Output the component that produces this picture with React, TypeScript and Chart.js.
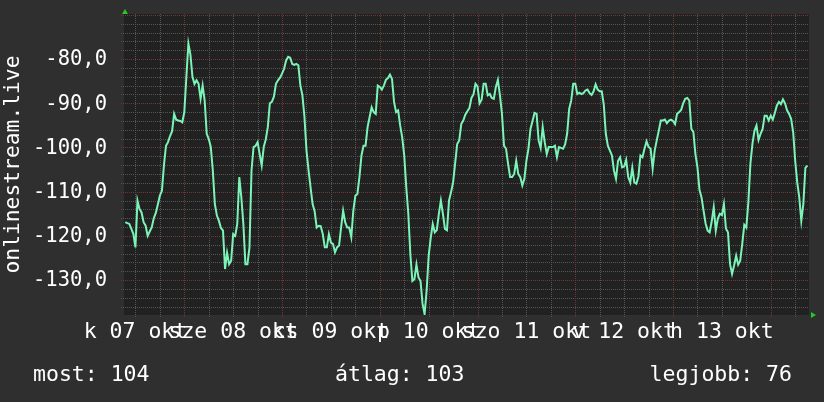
import React, { useEffect, useRef } from "react";
import { Chart, registerables } from "chart.js";

Chart.register(...registerables);

// ---- data (hours since 7 okt 00:00, 30-minute samples) ----
const START_HOUR = 9.5;
const STEP_HOURS = 0.5;
const values: number[] = [
  -116.9, -117.1, -117.3, -118.4, -119.6, -122.6, -112.0, -113.9, -114.7, -116.9,
  -117.7, -120.0, -119.0, -118.1, -116.0, -114.8, -112.9, -110.9, -109.8, -104.0,
  -99.6, -98.8, -97.4, -96.3, -92.4, -93.7, -93.9, -94.0, -94.3, -92.0,
  -84.1, -76.5, -79.0, -84.0, -85.6, -84.8, -85.6, -89.0, -86.0, -89.4,
  -96.9, -98.1, -99.9, -105.2, -112.8, -115.4, -116.6, -118.2, -118.8, -127.5,
  -123.8, -126.4, -125.6, -119.6, -120.0, -117.3, -106.7, -111.3, -117.3, -126.4,
  -126.4, -122.6, -105.2, -99.9, -99.6, -98.8, -101.5, -104.1, -99.9, -98.2,
  -95.4, -90.0, -89.7, -88.5, -85.6, -84.8, -84.2, -83.3, -82.2, -80.3,
  -79.5, -79.7, -81.1, -81.3, -81.1, -81.4, -86.0, -88.2, -93.1, -100.7,
  -105.1, -109.0, -112.8, -114.4, -118.1, -117.7, -117.8, -119.6, -122.6, -122.6,
  -119.6, -121.5, -121.8, -123.7, -122.6, -122.2, -118.1, -114.3, -116.9, -118.1,
  -118.1, -120.3, -114.3, -110.9, -110.5, -106.7, -101.8, -99.6, -99.6, -95.4,
  -93.1, -90.9, -92.0, -92.4, -86.0, -86.3, -86.9, -86.0, -84.7, -84.3,
  -83.5, -84.5, -89.7, -92.0, -91.6, -95.0, -97.7, -101.8, -109.0, -115.0,
  -124.1, -130.2, -129.8, -126.5, -129.4, -130.2, -135.4, -137.7, -132.4, -124.5,
  -120.5, -117.3, -119.2, -118.7, -115.0, -112.0, -115.0, -118.4, -118.7, -112.0,
  -110.1, -107.9, -103.6, -99.2, -98.4, -94.7, -93.9, -92.6, -91.8, -91.1,
  -88.8, -88.0, -85.6, -86.2, -90.0, -89.2, -85.6, -85.6, -88.2, -87.9,
  -88.8, -89.0, -86.3, -84.7, -88.2, -92.4, -99.6, -100.3, -103.7, -106.7,
  -106.7, -106.0, -103.0, -106.0, -106.7, -108.6, -107.1, -103.0, -100.3, -95.8,
  -94.0, -92.2, -92.4, -98.4, -100.1, -95.4, -98.8, -101.5, -99.9, -99.9,
  -99.9, -99.6, -102.2, -99.9, -100.1, -100.3, -99.3, -96.9, -91.3, -89.4,
  -85.6, -85.6, -87.9, -87.6, -87.9, -87.7, -87.1, -86.9, -87.7, -88.1,
  -87.3, -85.7, -86.9, -87.3, -87.3, -90.3, -96.9, -99.6, -100.7, -101.8,
  -105.2, -107.1, -103.0, -102.2, -104.5, -104.3, -102.8, -106.7, -107.9, -104.6,
  -107.9, -108.2, -106.6, -101.8, -102.2, -100.3, -98.6, -99.9, -100.3, -104.8,
  -100.7, -98.4, -96.2, -93.9, -93.9, -93.7, -94.5, -93.9, -93.7, -94.0,
  -94.7, -92.4, -92.0, -91.5, -90.0, -89.0, -88.8, -89.4, -95.8, -96.5,
  -101.5, -104.5, -109.6, -111.3, -114.3, -117.2, -118.8, -119.2, -116.7, -113.5,
  -118.8, -116.1, -115.0, -115.3, -112.8, -118.4, -119.2, -126.4, -128.6, -126.7,
  -124.5, -126.5, -125.6, -121.8, -117.5, -118.1, -112.4, -103.7, -99.2, -96.2,
  -95.0, -98.3, -96.9, -95.8, -92.8, -92.8, -93.9, -92.8, -93.7, -92.2,
  -90.5, -89.7, -90.2, -89.1, -90.0, -91.6, -92.4, -93.5, -96.5, -103.0,
  -107.9, -111.3, -116.6, -112.8, -104.6, -104.1,
];

const dayLabels = ["k 07 okt", "sze 08 okt", "cs 09 okt", "p 10 okt", "szo 11 okt", "v 12 okt", "h 13 okt"];
const dayLabelHours = [12, 36, 60, 84, 108, 132, 156];
const yTickValues = [-80, -90, -100, -110, -120, -130];
const statLabels = ["most: 104", "átlag: 103", "legjobb: 76"];
const titleText = "onlinestream.live";

const X_MIN = 9.19;
const X_MAX = 177.39;
const Y_MIN = -137.9;
const Y_MAX = -69.8;

// ---- styles ----
const OUTER_BG = "#2f2f2f";
const PLOT_BG = "#212121";
const MINOR_COLOR = "#555555";
const MAJOR_COLOR = "#733636";
const LINE_COLOR = "#7cf4b8";
const ARROW_COLOR = "#22cc22";
const TEXT_COLOR = "#ffffff";
const Y_FONT = "20.5px 'DejaVu Sans Mono', monospace";
const X_FONT = "21.5px 'DejaVu Sans Mono', monospace";
const LEGEND_FONT = "21.5px 'DejaVu Sans Mono', monospace";
const TITLE_FONT = "21.3px 'DejaVu Sans Mono', monospace";

const fmtTick = (v: number) => v.toFixed(1).replace(".", ",");

const rrdPlugin = {
  id: "rrdDecor",
  beforeDraw(chart: any) {
    const { ctx, chartArea: a, scales } = chart;
    const xs = scales.x;
    const ys = scales.y;
    ctx.save();
    ctx.fillStyle = OUTER_BG;
    ctx.fillRect(0, 0, chart.width, chart.height);
    ctx.fillStyle = PLOT_BG;
    ctx.fillRect(a.left, a.top, a.right - a.left, a.bottom - a.top);

    ctx.lineWidth = 1;
    ctx.setLineDash([1, 1]);
    const hline = (v: number, color: string) => {
      const py = Math.round(ys.getPixelForValue(v)) + 0.5;
      ctx.strokeStyle = color;
      ctx.beginPath();
      ctx.moveTo(a.left - 3, py);
      ctx.lineTo(a.right, py);
      ctx.stroke();
    };
    const vline = (h: number, color: string) => {
      const px = Math.round(xs.getPixelForValue(h)) + 0.5;
      ctx.strokeStyle = color;
      ctx.beginPath();
      ctx.moveTo(px, a.top);
      ctx.lineTo(px, a.bottom + 3);
      ctx.stroke();
    };
    for (let v = Math.ceil(Y_MIN / 2) * 2; v <= Y_MAX; v += 2) {
      if (Math.abs(v % 10) !== 0) hline(v, MINOR_COLOR);
    }
    for (let h = Math.ceil(X_MIN / 6) * 6; h <= X_MAX; h += 6) {
      if (h % 24 !== 0) vline(h, MINOR_COLOR);
    }
    for (let v = Math.ceil(Y_MIN / 10) * 10; v <= Y_MAX; v += 10) hline(v, MAJOR_COLOR);
    for (let h = Math.ceil(X_MIN / 24) * 24; h <= X_MAX; h += 24) vline(h, MAJOR_COLOR);
    ctx.setLineDash([]);

    // axis arrows
    ctx.fillStyle = ARROW_COLOR;
    ctx.beginPath();
    ctx.moveTo(a.left + 1, a.top - 5);
    ctx.lineTo(a.left - 2, a.top);
    ctx.lineTo(a.left + 4, a.top);
    ctx.closePath();
    ctx.fill();
    ctx.beginPath();
    ctx.moveTo(a.right + 7, a.bottom);
    ctx.lineTo(a.right + 2, a.bottom - 3);
    ctx.lineTo(a.right + 2, a.bottom + 3);
    ctx.closePath();
    ctx.fill();

    // texts
    ctx.fillStyle = TEXT_COLOR;
    ctx.textBaseline = "middle";
    ctx.font = Y_FONT;
    ctx.textAlign = "right";
    yTickValues.forEach((v) => {
      ctx.fillText(fmtTick(v), a.left - 17, ys.getPixelForValue(v) + 1);
    });
    ctx.font = X_FONT;
    ctx.textAlign = "center";
    dayLabels.forEach((lab, i) => {
      ctx.fillText(lab, xs.getPixelForValue(dayLabelHours[i]), 332);
    });
    ctx.font = LEGEND_FONT;
    ctx.textAlign = "left";
    ctx.fillText(statLabels[0], 33, 375);
    ctx.fillText(statLabels[1], 335, 375);
    ctx.textAlign = "right";
    ctx.fillText(statLabels[2], 792, 375);

    ctx.save();
    ctx.font = TITLE_FONT;
    ctx.translate(13, (a.top + a.bottom) / 2);
    ctx.rotate(-Math.PI / 2);
    ctx.textAlign = "center";
    ctx.fillText(titleText, 0, 0);
    ctx.restore();

    ctx.restore();
  },
};

export default function App() {
  const canvasRef = useRef<HTMLCanvasElement | null>(null);
  useEffect(() => {
    document.body.style.margin = "0";
    const canvas = canvasRef.current!;
    const points = values.map((v, i) => ({ x: START_HOUR + i * STEP_HOURS, y: v }));
    const chart = new Chart(canvas, {
      type: "line",
      data: {
        datasets: [
          {
            data: points,
            borderColor: LINE_COLOR,
            borderWidth: 2,
            pointRadius: 0,
            tension: 0,
            fill: false,
          },
        ],
      },
      options: {
        animation: false,
        responsive: false,
        devicePixelRatio: 1,
        layout: { padding: { left: 124, top: 14, right: 15, bottom: 87 } },
        plugins: { legend: { display: false }, tooltip: { enabled: false } },
        scales: {
          x: { type: "linear", min: X_MIN, max: X_MAX, display: false },
          y: { type: "linear", min: Y_MIN, max: Y_MAX, display: false },
        },
      },
      plugins: [rrdPlugin],
    });
    return () => chart.destroy();
  }, []);
  return (
    <div style={{ position: "fixed", left: 0, top: 0, width: 824, height: 402 }}>
      <canvas ref={canvasRef} width={824} height={402} style={{ width: 824, height: 402, display: "block" }} />
    </div>
  );
}
